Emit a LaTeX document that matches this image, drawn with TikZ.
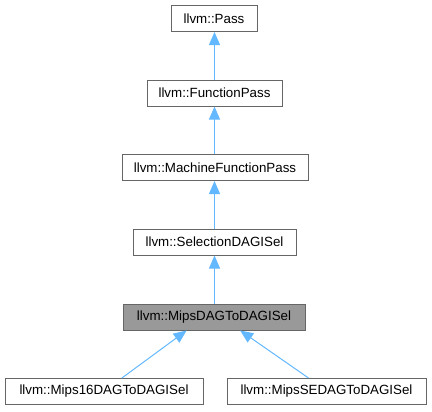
\documentclass[tikz,border=0pt]{standalone}
\usepackage{fontspec}
\setmainfont{Liberation Sans}
\usetikzlibrary{arrows.meta,calc}
\definecolor{edgeblue}{HTML}{63B8FF}
\definecolor{boxgray}{HTML}{666666}
\definecolor{hlgray}{HTML}{999999}
\begin{document}
\begin{tikzpicture}[x=0.75pt,y=-0.75pt,
  cls/.style={draw=boxgray,fill=white,line width=0.75pt,inner xsep=4pt,inner ysep=0pt,
    minimum height=19.5pt,font=\fontsize{10}{12}\selectfont},
  hl/.style={cls,fill=hlgray},
  w/.style={minimum width=#1*0.75pt},
  edge/.style={draw=edgeblue,line width=0.75pt,-{Triangle[width=8.25pt,length=9.75pt]}}]
\useasboundingbox (0,0) rectangle (432,411);
\node[cls,w=86] (pass) at (214,18.5) {llvm::Pass};
\node[cls,w=135] (fp) at (214.5,93) {llvm::FunctionPass};
\node[cls,w=186] (mfp) at (215,167.5) {llvm::MachineFunctionPass};
\node[cls,w=163] (sdag) at (214.5,242) {llvm::SelectionDAGISel};
\node[hl,w=182] (mips) at (214,317) {llvm::MipsDAGToDAGISel};
\node[cls,w=198] (m16) at (104,391.5) {llvm::Mips16DAGToDAGISel};
\node[cls,w=199] (mse) at (326.5,391.5) {llvm::MipsSEDAGToDAGISel};
\draw[edge] (fp.north) -- (fp.north |- pass.south);
\draw[edge] (mfp.north -| fp.north) -- (fp.south);
\draw[edge] (sdag.north) -- (sdag.north |- mfp.south);
\draw[edge] (mips.north -| sdag.north) -- (sdag.south);
\draw[edge] ($(m16.north west)!0.59!(m16.north east)$) -- ($(mips.south west)!0.35!(mips.south east)$);
\draw[edge] ($(mse.north west)!0.41!(mse.north east)$) -- ($(mips.south west)!0.643!(mips.south east)$);
\end{tikzpicture}
\end{document}
